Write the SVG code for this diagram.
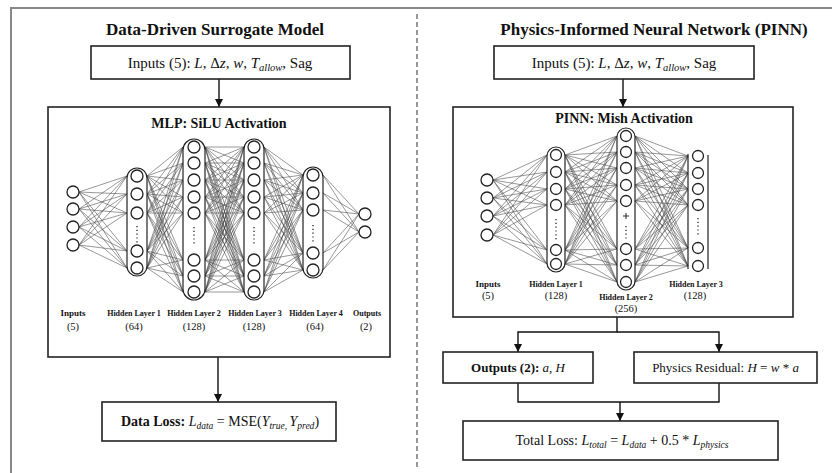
<svg xmlns="http://www.w3.org/2000/svg" width="832" height="473" viewBox="0 0 832 473">
<defs>
<style>
text{font-family:"Liberation Serif","Times New Roman",serif;fill:#111}
.title{font-size:17px;font-weight:bold}
.sub{font-size:14px;font-weight:bold}
.box{fill:#fff;stroke:#222;stroke-width:1.6}
.t15{font-size:15px}
.t14{font-size:14px}
.t13{font-size:13px}
.lab{font-size:8px;font-weight:bold}
.lab9{font-size:9px;font-weight:bold}
.num{font-size:10.5px}
.i{font-style:italic}
.b{font-weight:bold}
.conn{fill:none;stroke:#444;stroke-width:0.55}
.node{fill:#fff;stroke:#222;stroke-width:1.3}
.cap{fill:#fff;stroke:#222;stroke-width:1.2}
.dots{fill:none;stroke:#333;stroke-width:1.4;stroke-dasharray:1.2 2.6}
.edge{fill:none;stroke:#111;stroke-width:1.4}
</style>
<marker id="ah" markerUnits="userSpaceOnUse" markerWidth="8" markerHeight="8" refX="8" refY="4" orient="auto">
<path d="M0,0 L8,4 L0,8 z" fill="#111"/>
</marker>
</defs>
<rect width="832" height="473" fill="#fff"/>
<path d="M11 473V8H832" fill="none" stroke="#888" stroke-width="2"/>
<line x1="417" y1="14" x2="417" y2="468" stroke="#777" stroke-width="1.5" stroke-dasharray="5 3"/>

<text class="title" x="215" y="35" text-anchor="middle">Data-Driven Surrogate Model</text>
<text class="title" x="654" y="35" text-anchor="middle">Physics-Informed Neural Network (PINN)</text>

<g id="connectors">
<path class="edge" d="M219 79V107" marker-end="url(#ah)"/>
<path class="edge" d="M218 357V402" marker-end="url(#ah)"/>
<path class="edge" d="M623 79V107" marker-end="url(#ah)"/>
<path class="edge" d="M617 317V332H518V352" marker-end="url(#ah)"/>
<path class="edge" d="M617 332H719V352" marker-end="url(#ah)"/>
<path class="edge" d="M518 383V402H719V383"/>
<path class="edge" d="M620 402V421" marker-end="url(#ah)"/>
</g>

<g id="left-input">
<rect class="box" x="91" y="46" width="259" height="33"/>
<text class="t15" x="220" y="67.5" text-anchor="middle">Inputs (5): <tspan class="i">L</tspan>, Δ<tspan class="i">z</tspan>, <tspan class="i">w</tspan>, <tspan class="i">T</tspan><tspan class="i" font-size="10.5" dy="3">allow</tspan><tspan dy="-3">, Sag</tspan></text>
</g>

<g id="mlp">
<rect class="box" x="48" y="107" width="342" height="250"/>
<text class="sub" x="219" y="128" text-anchor="middle">MLP: SiLU Activation</text>
<path class="conn" d="M79 192L127 176M79 192L127 194M79 192L127 213M79 192L127 251M79 192L127 268M79 209L127 176M79 209L127 194M79 209L127 213M79 209L127 251M79 209L127 268M79 227L127 176M79 227L127 194M79 227L127 213M79 227L127 251M79 227L127 268M79 245L127 176M79 245L127 194M79 245L127 213M79 245L127 251M79 245L127 268"/>
<path class="conn" d="M147 176L183 147M147 176L183 163M147 176L183 180M147 176L183 197M147 176L183 213M147 176L183 260M147 176L183 276M147 176L183 292M147 194L183 147M147 194L183 163M147 194L183 180M147 194L183 197M147 194L183 213M147 194L183 260M147 194L183 276M147 194L183 292M147 213L183 147M147 213L183 163M147 213L183 180M147 213L183 197M147 213L183 213M147 213L183 260M147 213L183 276M147 213L183 292M147 251L183 147M147 251L183 163M147 251L183 180M147 251L183 197M147 251L183 213M147 251L183 260M147 251L183 276M147 251L183 292M147 268L183 147M147 268L183 163M147 268L183 180M147 268L183 197M147 268L183 213M147 268L183 260M147 268L183 276M147 268L183 292"/>
<path class="conn" d="M205 147L244 147M205 147L244 163M205 147L244 180M205 147L244 197M205 147L244 213M205 147L244 260M205 147L244 276M205 147L244 292M205 163L244 147M205 163L244 163M205 163L244 180M205 163L244 197M205 163L244 213M205 163L244 260M205 163L244 276M205 163L244 292M205 180L244 147M205 180L244 163M205 180L244 180M205 180L244 197M205 180L244 213M205 180L244 260M205 180L244 276M205 180L244 292M205 197L244 147M205 197L244 163M205 197L244 180M205 197L244 197M205 197L244 213M205 197L244 260M205 197L244 276M205 197L244 292M205 213L244 147M205 213L244 163M205 213L244 180M205 213L244 197M205 213L244 213M205 213L244 260M205 213L244 276M205 213L244 292M205 260L244 147M205 260L244 163M205 260L244 180M205 260L244 197M205 260L244 213M205 260L244 260M205 260L244 276M205 260L244 292M205 276L244 147M205 276L244 163M205 276L244 180M205 276L244 197M205 276L244 213M205 276L244 260M205 276L244 276M205 276L244 292M205 292L244 147M205 292L244 163M205 292L244 180M205 292L244 197M205 292L244 213M205 292L244 260M205 292L244 276M205 292L244 292"/>
<path class="conn" d="M264 147L303 175M264 147L303 193M264 147L303 210M264 147L303 253M264 147L303 270M264 163L303 175M264 163L303 193M264 163L303 210M264 163L303 253M264 163L303 270M264 180L303 175M264 180L303 193M264 180L303 210M264 180L303 253M264 180L303 270M264 197L303 175M264 197L303 193M264 197L303 210M264 197L303 253M264 197L303 270M264 213L303 175M264 213L303 193M264 213L303 210M264 213L303 253M264 213L303 270M264 260L303 175M264 260L303 193M264 260L303 210M264 260L303 253M264 260L303 270M264 276L303 175M264 276L303 193M264 276L303 210M264 276L303 253M264 276L303 270M264 292L303 175M264 292L303 193M264 292L303 210M264 292L303 253M264 292L303 270"/>
<path class="conn" d="M323 175L359 214M323 175L359 232M323 193L359 214M323 193L359 232M323 210L359 214M323 210L359 232M323 253L359 214M323 253L359 232M323 270L359 214M323 270L359 232"/>
<rect class="cap" x="127" y="168" width="20" height="108" rx="10"/>
<rect class="cap" x="183" y="139" width="22" height="161" rx="11"/>
<rect class="cap" x="244" y="139" width="20" height="161" rx="10"/>
<rect class="cap" x="303" y="167" width="20" height="111" rx="10"/>
<circle class="node" cx="73" cy="192" r="6"/><circle class="node" cx="73" cy="209" r="6"/><circle class="node" cx="73" cy="227" r="6"/><circle class="node" cx="73" cy="245" r="6"/>
<circle class="node" cx="137" cy="176" r="6"/><circle class="node" cx="137" cy="194" r="6"/><circle class="node" cx="137" cy="213" r="6"/><circle class="node" cx="137" cy="251" r="6"/><circle class="node" cx="137" cy="268" r="6"/>
<circle class="node" cx="194" cy="147" r="6"/><circle class="node" cx="194" cy="163" r="6"/><circle class="node" cx="194" cy="180" r="6"/><circle class="node" cx="194" cy="197" r="6"/><circle class="node" cx="194" cy="213" r="6"/><circle class="node" cx="194" cy="260" r="6"/><circle class="node" cx="194" cy="276" r="6"/><circle class="node" cx="194" cy="292" r="6"/>
<circle class="node" cx="254" cy="147" r="6"/><circle class="node" cx="254" cy="163" r="6"/><circle class="node" cx="254" cy="180" r="6"/><circle class="node" cx="254" cy="197" r="6"/><circle class="node" cx="254" cy="213" r="6"/><circle class="node" cx="254" cy="260" r="6"/><circle class="node" cx="254" cy="276" r="6"/><circle class="node" cx="254" cy="292" r="6"/>
<circle class="node" cx="313" cy="175" r="6"/><circle class="node" cx="313" cy="193" r="6"/><circle class="node" cx="313" cy="210" r="6"/><circle class="node" cx="313" cy="253" r="6"/><circle class="node" cx="313" cy="270" r="6"/>
<circle class="node" cx="365" cy="214" r="6"/><circle class="node" cx="365" cy="232" r="6"/>
<path class="dots" d="M137 226V243M194 227V245M254 227V245M313 225V242"/>
<text class="lab9" x="73" y="315.5" text-anchor="middle">Inputs</text>
<text class="lab" x="134" y="315.5" text-anchor="middle">Hidden Layer 1</text>
<text class="lab" x="194" y="315.5" text-anchor="middle">Hidden Layer 2</text>
<text class="lab" x="255" y="315.5" text-anchor="middle">Hidden Layer 3</text>
<text class="lab" x="316" y="315.5" text-anchor="middle">Hidden Layer 4</text>
<text class="lab" x="367" y="315.5" text-anchor="middle" font-size="8.5">Outputs</text>
<text class="num" x="73" y="329.5" text-anchor="middle">(5)</text>
<text class="num" x="134" y="329.5" text-anchor="middle">(64)</text>
<text class="num" x="194" y="329.5" text-anchor="middle">(128)</text>
<text class="num" x="254" y="329.5" text-anchor="middle">(128)</text>
<text class="num" x="315" y="329.5" text-anchor="middle">(64)</text>
<text class="num" x="366" y="329.5" text-anchor="middle">(2)</text>
</g>

<g id="data-loss">
<rect class="box" x="102" y="402" width="234" height="39"/>
<text class="t14" x="220" y="426" text-anchor="middle"><tspan class="b">Data Loss:</tspan> <tspan class="i">L</tspan><tspan class="i" font-size="9.5" dy="3">data</tspan><tspan dy="-3"> = MSE(</tspan><tspan class="i">Y</tspan><tspan class="i" font-size="9.5" dy="3">true</tspan><tspan font-size="9.5">, </tspan><tspan class="i" dy="-3">Y</tspan><tspan class="i" font-size="9.5" dy="3">pred</tspan><tspan dy="-3">)</tspan></text>
</g>

<g id="right-input">
<rect class="box" x="494" y="46" width="260" height="33"/>
<text class="t15" x="624" y="67.5" text-anchor="middle">Inputs (5): <tspan class="i">L</tspan>, Δ<tspan class="i">z</tspan>, <tspan class="i">w</tspan>, <tspan class="i">T</tspan><tspan class="i" font-size="10.5" dy="3">allow</tspan><tspan dy="-3">, Sag</tspan></text>
</g>

<g id="pinn">
<rect class="box" x="453" y="107" width="340" height="210"/>
<text class="sub" x="624" y="123" text-anchor="middle">PINN: Mish Activation</text>
<path class="conn" d="M493 180L547 155M493 180L547 172M493 180L547 189M493 180L547 205M493 180L547 250M493 180L547 264M493 198L547 155M493 198L547 172M493 198L547 189M493 198L547 205M493 198L547 250M493 198L547 264M493 216L547 155M493 216L547 172M493 216L547 189M493 216L547 205M493 216L547 250M493 216L547 264M493 235L547 155M493 235L547 172M493 235L547 189M493 235L547 205M493 235L547 250M493 235L547 264"/>
<path class="conn" d="M565 155L617 136M565 155L617 152M565 155L617 168M565 155L617 185M565 155L617 201M565 155L617 249M565 155L617 265M565 155L617 282M565 172L617 136M565 172L617 152M565 172L617 168M565 172L617 185M565 172L617 201M565 172L617 249M565 172L617 265M565 172L617 282M565 189L617 136M565 189L617 152M565 189L617 168M565 189L617 185M565 189L617 201M565 189L617 249M565 189L617 265M565 189L617 282M565 205L617 136M565 205L617 152M565 205L617 168M565 205L617 185M565 205L617 201M565 205L617 249M565 205L617 265M565 205L617 282M565 250L617 136M565 250L617 152M565 250L617 168M565 250L617 185M565 250L617 201M565 250L617 249M565 250L617 265M565 250L617 282M565 264L617 136M565 264L617 152M565 264L617 168M565 264L617 185M565 264L617 201M565 264L617 249M565 264L617 265M565 264L617 282"/>
<path class="conn" d="M635 136L688 156M635 136L688 173M635 136L688 189M635 136L688 205M635 136L688 248M635 136L688 266M635 152L688 156M635 152L688 173M635 152L688 189M635 152L688 205M635 152L688 248M635 152L688 266M635 168L688 156M635 168L688 173M635 168L688 189M635 168L688 205M635 168L688 248M635 168L688 266M635 185L688 156M635 185L688 173M635 185L688 189M635 185L688 205M635 185L688 248M635 185L688 266M635 201L688 156M635 201L688 173M635 201L688 189M635 201L688 205M635 201L688 248M635 201L688 266M635 249L688 156M635 249L688 173M635 249L688 189M635 249L688 205M635 249L688 248M635 249L688 266M635 265L688 156M635 265L688 173M635 265L688 189M635 265L688 205M635 265L688 248M635 265L688 266M635 282L688 156M635 282L688 173M635 282L688 189M635 282L688 205M635 282L688 248M635 282L688 266"/>
<rect class="cap" x="547" y="147" width="18" height="125" rx="9"/>
<rect class="cap" x="617" y="128" width="18" height="162" rx="9"/>
<path d="M688 154V269M708 155V269" fill="none" stroke="#222" stroke-width="1.2"/>
<circle class="node" cx="487" cy="180" r="6"/><circle class="node" cx="487" cy="198" r="6"/><circle class="node" cx="487" cy="216" r="6"/><circle class="node" cx="487" cy="235" r="6"/>
<circle class="node" cx="556" cy="155" r="5.5"/><circle class="node" cx="556" cy="172" r="5.5"/><circle class="node" cx="556" cy="189" r="5.5"/><circle class="node" cx="556" cy="205" r="5.5"/><circle class="node" cx="556" cy="250" r="5.5"/><circle class="node" cx="556" cy="264" r="5.5"/>
<circle class="node" cx="626" cy="136" r="5.5"/><circle class="node" cx="626" cy="152" r="5.5"/><circle class="node" cx="626" cy="168" r="5.5"/><circle class="node" cx="626" cy="185" r="5.5"/><circle class="node" cx="626" cy="201" r="5.5"/><circle class="node" cx="626" cy="249" r="5.5"/><circle class="node" cx="626" cy="265" r="5.5"/><circle class="node" cx="626" cy="282" r="5.5"/>
<circle class="node" cx="698" cy="156" r="5.5"/><circle class="node" cx="698" cy="173" r="5.5"/><circle class="node" cx="698" cy="189" r="5.5"/><circle class="node" cx="698" cy="205" r="5.5"/><circle class="node" cx="698" cy="248" r="5.5"/><circle class="node" cx="698" cy="266" r="5.5"/>
<path class="dots" d="M556 219V240M626 226V240M698 218V235"/>
<path d="M623 216H629M626 213V219" fill="none" stroke="#333" stroke-width="1.1"/>
<text class="lab9" x="488" y="286.5" text-anchor="middle">Inputs</text>
<text class="lab" x="556" y="286.5" text-anchor="middle">Hidden Layer 1</text>
<text class="lab" x="626" y="299.5" text-anchor="middle">Hidden Layer 2</text>
<text class="lab" x="696" y="286.5" text-anchor="middle">Hidden Layer 3</text>
<text class="num" x="488" y="299" text-anchor="middle">(5)</text>
<text class="num" x="556" y="299" text-anchor="middle">(128)</text>
<text class="num" x="626" y="312" text-anchor="middle">(256)</text>
<text class="num" x="695" y="299" text-anchor="middle">(128)</text>
</g>

<g id="outputs">
<rect class="box" x="443" y="352" width="150" height="31"/>
<text class="t13" x="518" y="372" text-anchor="middle"><tspan class="b">Outputs (2):</tspan> <tspan class="i">a</tspan>, <tspan class="i">H</tspan></text>
</g>

<g id="physics-residual">
<rect class="box" x="634" y="352" width="183" height="31"/>
<text class="t13" x="725.5" y="372" text-anchor="middle">Physics Residual: <tspan class="i">H</tspan> = <tspan class="i">w</tspan> * <tspan class="i">a</tspan></text>
</g>

<g id="total-loss">
<rect class="box" x="463" y="421" width="315" height="39"/>
<text class="t14" x="622" y="445" text-anchor="middle">Total Loss: <tspan class="i">L</tspan><tspan class="i" font-size="9.5" dy="3">total</tspan><tspan dy="-3"> = </tspan><tspan class="i">L</tspan><tspan class="i" font-size="9.5" dy="3">data</tspan><tspan dy="-3"> + 0.5 * </tspan><tspan class="i">L</tspan><tspan class="i" font-size="9.5" dy="3">physics</tspan></text>
</g>
</svg>
